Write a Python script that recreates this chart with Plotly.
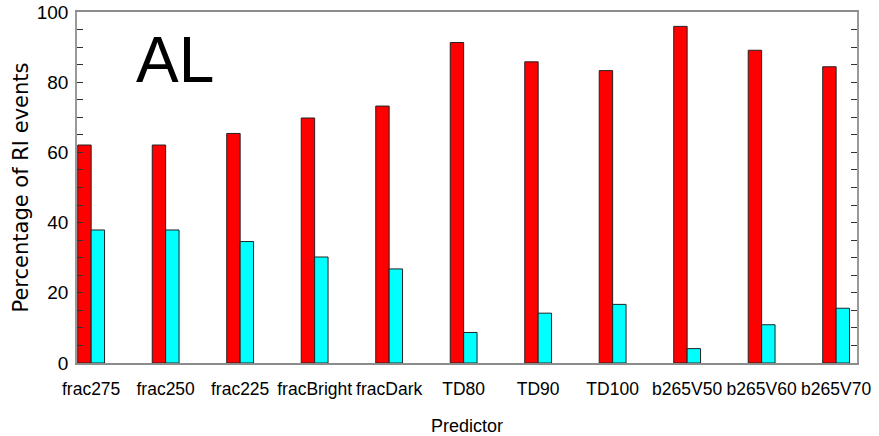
import plotly.graph_objects as go

# Predictors and the share (%) of RI events in each outcome class
predictors = ["frac275", "frac250", "frac225", "fracBright", "fracDark",
              "TD80", "TD90", "TD100", "b265V50", "b265V60", "b265V70"]
pct_red = [62.1, 62.1, 65.4, 69.8, 73.2, 91.3, 85.8, 83.3, 95.9, 89.1, 84.4]
pct_cyan = [37.9, 37.9, 34.6, 30.2, 26.8, 8.7, 14.2, 16.7, 4.1, 10.9, 15.6]

y_ticks = [0, 20, 40, 60, 80, 100]

sans = "Liberation Sans, Arial, sans-serif"

fig = go.Figure()
fig.add_trace(go.Bar(x=predictors, y=pct_red, name="red",
                     marker=dict(color="#ff0000", line=dict(color="#222222", width=1))))
fig.add_trace(go.Bar(x=predictors, y=pct_cyan, name="cyan",
                     marker=dict(color="#00ffff", line=dict(color="#222222", width=1))))

fig.update_layout(
    width=879, height=436,
    margin=dict(l=77, r=22, t=12, b=72.5, autoexpand=False),
    paper_bgcolor="white", plot_bgcolor="white",
    barmode="group", bargap=0.64, bargroupgap=0.0,
    showlegend=False,
    font=dict(family=sans, size=18, color="black"),
)

fig.update_xaxes(
    range=[-0.19, 10.28],
    automargin=False,
    showline=True, linecolor="#8c8c8c", linewidth=1.5, mirror=True,
    ticks="", showgrid=False, tickangle=0,
    tickfont=dict(family=sans, size=17.5, color="black"),
    ticklabelstandoff=9,
    title=dict(text="Predictor", font=dict(family=sans, size=18, color="black"), standoff=22),
)

fig.update_yaxes(
    range=[0, 100],
    automargin=False,
    tickvals=y_ticks,
    ticks="inside", ticklen=6, tickcolor="#333333", tickwidth=1,
    minor=dict(dtick=5, ticks="inside", ticklen=6, tickcolor="#333333", tickwidth=1),
    showline=True, linecolor="#9a9a9a", linewidth=1.5, mirror="allticks",
    showgrid=False, zeroline=False,
    tickfont=dict(family=sans, size=19, color="black"),
    ticklabelstandoff=3,
    title=dict(text="Percentage of RI events",
               font=dict(family="DejaVu Sans, Verdana, sans-serif", size=21, color="black"),
               standoff=2),
)

# Panel label
fig.add_annotation(text="AL", xref="paper", yref="paper", x=0.126, y=0.863,
                   xanchor="center", yanchor="middle", showarrow=False,
                   font=dict(family=sans, size=64, color="black"))

# Panel title, running off the top edge
fig.add_annotation(text="(a)", xref="paper", yref="paper", x=0.355, y=1.03,
                   xanchor="center", yanchor="bottom", showarrow=False,
                   font=dict(family=sans, size=20, color="black"))

fig.write_html("out.html")
